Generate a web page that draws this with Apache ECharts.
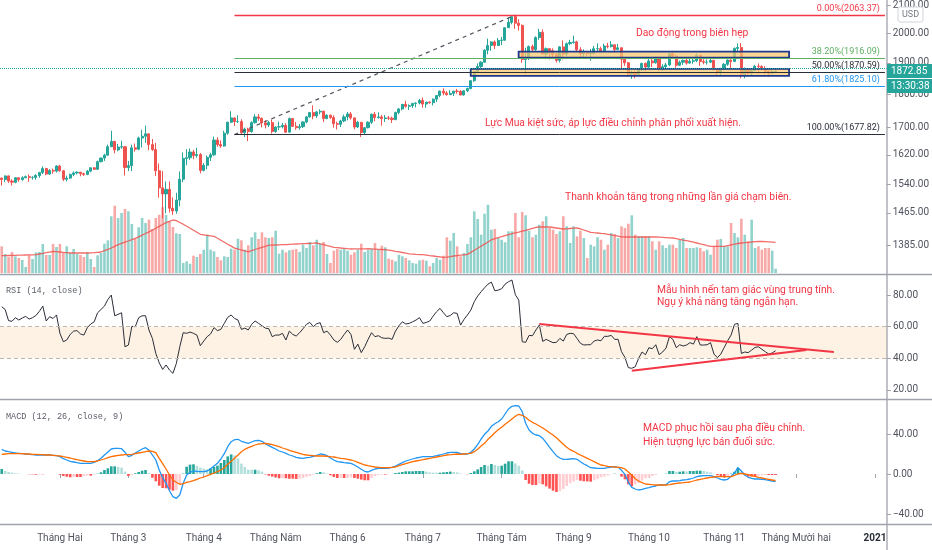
<!DOCTYPE html>
<html>
<head>
<meta charset="utf-8">
<script src="https://cdn.jsdelivr.net/npm/echarts/dist/echarts.min.js"></script>
<style>
  html, body { margin: 0; padding: 0; background: #fff; overflow: hidden; }
  #main { width: 932px; height: 550px; }
</style>
</head>
<body>
<div id="main"></div>
<script>
// XAUUSD ngày, 09/01/2020 - 23/11/2020 (giá)
var open = [
  1556,1552,1562,1548,1545,1557,1552,1557,1560,1558,1558,1563,1571,1582,1567,1577,1575,
  1589,1576,1553,1556,1566,1570,1572,1568,1566,1575,1584,1580,1601,1611,1619,1643,1658,1634,1642,1643,
  1585,1590,1640,1636,1668,1673,1680,1649,1635,1576,1530,1514,1526,1477,1470,1498,1553,1610,1612,1628,1618,1621,
  1577,1591,1613,1620,1662,1649,1645,1682,1714,1727,1716,1716,1683,1694,1687,1713,1730,1726,1712,1706,1713,
  1687,1700,1701,1705,1685,1725,1702,1698,1701,1715,1730,1743,1733,1745,1747,1725,1735,1728,1710,1708,1718,
  1730,1739,1727,1700,1714,1684,1698,1714,1738,1728,1730,1725,1727,1726,1722,1743,1754,1768,1762,1764,1771,1772,
  1780,1769,1775,1773,1784,1795,1809,1803,1798,1802,1809,1808,1797,1810,1817,1842,1871,1888,1902,1942,1958,1970,1958,
  1975,1976,2019,2038,2058,2035,2027,1911,1915,1954,1944,1985,2003,1929,1947,1940,1928,1908,1953,1929,1964,
  1968,1970,1943,1930,1933,1931,1932,1947,1947,1940,1956,1954,1960,1944,1950,1912,1900,1863,1868,1862,1881,1898,
  1886,1906,1900,1913,1878,1887,1893,1930,1922,1892,1902,1908,1899,1905,1907,1925,1904,1902,1902,1908,1878,1868,
  1879,1895,1909,1904,1948,1951,1862,1877,1866,1874,1889,1888,1880,1872,1866,1871
];
var high = [
  1557,1563,1563,1553,1558,1557,1561,1563,1566,1561,1567,1573,1588,1584,1580,1582,1591,
  1592,1577,1563,1568,1574,1575,1573,1571,1578,1585,1586,1604,1612,1623,1649,1689,1660,1651,1660,1644,
  1603,1649,1652,1672,1692,1704,1681,1665,1654,1596,1575,1547,1547,1505,1517,1574,1627,1636,1638,1634,1640,1625,
  1597,1618,1626,1672,1670,1661,1689,1716,1747,1729,1735,1723,1698,1698,1717,1738,1739,1728,1720,1718,1722,
  1702,1716,1712,1711,1728,1726,1715,1709,1717,1733,1745,1765,1748,1753,1749,1738,1737,1735,1716,1721,1737,
  1745,1745,1728,1718,1715,1700,1717,1740,1745,1744,1736,1736,1733,1731,1746,1757,1769,1779,1768,1772,1774,1785,
  1789,1775,1777,1786,1797,1811,1818,1809,1812,1810,1816,1812,1810,1820,1843,1873,1898,1905,1945,1981,1972,1975,1983,
  1987,2021,2055,2060,2063.37,2049,2031,1950,1958,1961,1989,2015,2013,1951,1948,1948,1933,1956,1975,1968,1977,
  1992,1974,1952,1945,1937,1946,1956,1965,1954,1964,1967,1973,1961,1963,1952,1917,1903,1874,1874,1883,1900,1901,
  1917,1918,1920,1921,1895,1900,1933,1934,1926,1907,1911,1913,1916,1915,1931,1926,1912,1911,1913,1910,1881,1884,
  1899,1911,1911,1951,1965,1966,1885,1881,1881,1893,1898,1892,1889,1876,1883,1875
];
var low = [
  1536,1545,1543,1536,1542,1546,1549,1556,1546,1552,1552,1557,1567,1564,1565,1568,1571,
  1573,1548,1547,1554,1561,1566,1561,1562,1564,1572,1578,1578,1599,1603,1618,1643,1624,1630,1637,1563,
  1575,1575,1629,1633,1641,1654,1633,1631,1562,1504,1451,1464,1466,1460,1463,1482,1545,1591,1606,1608,1612,1569,
  1574,1580,1603,1617,1643,1640,1643,1677,1712,1703,1712,1680,1671,1659,1683,1710,1718,1699,1696,1700,1681,
  1683,1691,1696,1683,1684,1700,1692,1692,1697,1711,1728,1723,1727,1738,1715,1723,1724,1698,1693,1700,1714,
  1720,1722,1693,1697,1671,1677,1696,1709,1717,1725,1704,1715,1721,1712,1720,1738,1750,1758,1751,1757,1759,1768,
  1758,1758,1770,1765,1775,1790,1796,1795,1798,1794,1801,1796,1795,1806,1815,1838,1867,1883,1900,1928,1940,1946,1956,
  1959,1974,2018,2031,2015,2009,1900,1863,1909,1936,1940,1977,1928,1912,1911,1916,1901,1901,1911,1923,1959,
  1964,1936,1917,1916,1922,1907,1928,1939,1937,1937,1948,1951,1933,1942,1882,1890,1855,1848,1850,1860,1873,1873,
  1881,1886,1897,1873,1873,1880,1889,1914,1884,1889,1893,1894,1897,1897,1902,1890,1895,1894,1899,1875,1860,1859,
  1876,1890,1877,1903,1934,1850,1850,1860,1861,1872,1864,1874,1862,1855,1865,1866
];
var close = [
  1552,1562,1548,1545,1557,1552,1557,1560,1558,1558,1563,1571,1582,1567,1577,1575,1589,
  1576,1553,1556,1566,1570,1572,1568,1566,1575,1584,1580,1601,1611,1619,1643,1658,1634,1642,1643,1585,
  1590,1640,1636,1668,1673,1680,1649,1635,1576,1530,1514,1526,1477,1470,1498,1553,1610,1612,1628,1618,1621,1577,
  1591,1613,1620,1662,1649,1645,1682,1714,1727,1716,1716,1683,1694,1687,1713,1730,1726,1712,1706,1713,1687,
  1700,1701,1705,1685,1725,1702,1698,1701,1715,1730,1743,1733,1745,1747,1725,1735,1728,1710,1708,1718,1730,
  1739,1727,1700,1714,1684,1698,1714,1738,1728,1730,1725,1727,1726,1722,1743,1754,1768,1762,1764,1771,1772,1780,
  1769,1775,1773,1784,1795,1809,1803,1798,1802,1809,1808,1797,1810,1817,1842,1871,1888,1902,1942,1958,1970,1958,1975,
  1976,2019,2038,2058,2035,2027,1911,1915,1954,1944,1985,2003,1929,1947,1940,1928,1908,1953,1929,1964,1968,
  1970,1943,1930,1933,1931,1932,1947,1947,1940,1956,1954,1960,1944,1950,1912,1900,1863,1868,1862,1881,1898,1886,
  1906,1900,1913,1878,1887,1893,1930,1922,1892,1902,1908,1899,1905,1907,1925,1904,1902,1902,1908,1878,1868,1879,
  1895,1909,1904,1948,1951,1862,1877,1866,1874,1889,1888,1880,1872,1866,1871,1872.85
];
// khối lượng (nghìn)
var volume = [
  26.7,19,16,21,16.7,15,13,6,17.7,14,20.7,21,29,18,18,29,26,
  29,20,26.7,20,24,19,18,16,20.7,14,6,17.7,20,29.3,32.7,56.7,67.3,55,60,64,
  61.7,49,34,45.7,55,50,53.3,44,55,58.3,65.7,58,51.7,46,39.7,39,10,11.7,9.3,17.3,16,19,
  23.3,38.3,23.3,21.7,16,12.7,16.7,16,24.3,23.3,34.3,32.7,23.3,27.7,35.7,40.7,34,40.7,35.7,35,35.7,
  42.3,19.3,23.3,20.7,22.7,23.3,24,21,28.3,25,31,27.7,33.3,29.3,31,19,10,22.3,24,23.3,24,
  22.3,18.3,20.7,23.3,29.3,21,23.3,24,30,23.3,27.3,25.7,14.3,13.3,11.7,18.3,16.7,15,12.7,10,9.3,12.7,
  13.3,12.3,6.7,10,15,13.3,17.3,35.7,32.3,40,26.7,16.7,20,29,35.7,61.7,54,38.3,59.3,68.3,43.3,44,35,
  33.3,30.7,41.7,41.7,60,35.7,61,57.7,42.3,35.7,38.3,48.3,51.7,56.7,45,43.3,39,41.7,56.7,46.7,30,
  46.7,36.7,42.3,35,15,28.3,26.7,35.7,33.3,23.3,28.3,40,39,35,46.7,45,49.3,57.7,38.3,36.7,36.7,36.7,
  36.7,31.7,23.3,31.7,27.7,25,28.3,28.3,25,33.3,35,25,25,25,25.7,25,21.7,23.3,18.3,26.7,33.3,34,
  26.7,26.7,50,40,35.7,54.3,38.3,31.7,53.3,25,26.7,23.3,25,25,22.3,4.3
];
var volumeMA = [
  17.3,17.4,17.5,17.6,17.7,17.8,17.9,18.0,18.1,18.2,18.4,19.0,19.6,20.3,20.9,21.5,21.3,
  21.0,20.6,20.3,20.0,20.0,20.0,20.0,20.0,20.0,20.2,20.4,20.7,21.0,22.3,23.6,25.0,26.7,28.4,29.6,30.8,
  32.0,33.3,34.6,36.2,37.9,39.5,41.1,42.8,44.7,46.6,48.5,50.4,51.7,53.0,52.3,50.5,48.8,46.8,44.8,42.8,40.7,38.7,
  38.2,37.7,37.2,36.7,34.7,32.8,30.8,28.8,26.9,24.9,24.0,23.0,22.1,21.2,22.3,23.5,24.6,25.7,26.7,27.8,27.9,
  28.0,28.1,28.3,28.4,28.6,28.8,29.0,29.2,29.4,29.5,29.7,29.8,30.0,29.1,28.3,27.4,26.6,25.7,25.4,25.0,24.7,
  24.3,24.0,24.1,24.1,24.2,24.2,24.3,24.1,23.9,23.7,23.5,23.3,22.8,22.3,21.7,21.2,20.5,19.8,19.2,18.9,18.6,18.4,
  18.3,17.9,17.4,17.0,16.5,16.1,15.7,15.9,16.4,17.0,17.4,17.8,18.2,18.6,20.6,22.7,24.7,26.8,28.9,31.0,33.2,34.3,35.3,
  36.3,37.4,38.4,39.3,40.1,40.9,41.8,42.7,43.6,44.6,45.6,46.0,46.0,46.0,46.0,45.5,45.0,44.5,44.0,44.2,44.5,
  44.8,45.0,44.1,43.0,41.8,40.7,40.3,40.0,39.6,39.3,38.7,38.1,37.4,36.8,36.2,36.0,36.0,36.0,36.0,36.0,36.0,36.0,
  36.0,36.0,36.0,35.8,35.6,35.4,35.2,35.0,34.3,33.6,32.9,32.3,31.7,30.9,30.0,29.1,28.3,27.4,26.7,26.7,26.7,26.7,
  26.7,27.4,28.1,28.8,29.5,30.0,30.4,30.7,31.0,31.4,31.6,31.5,31.3,31.1,30.9,30.7
];
// RSI (14, close)
var rsi = [
  72.6,70.9,63.8,63.4,65.7,64.2,65.5,66.5,64.8,65.7,67.1,69.7,73.0,63.6,66.3,65.2,67.4,
  55.8,50.5,51.6,55.1,57.2,57.5,55.4,54.7,59.4,61.7,63.1,68.8,70.9,73.0,77.2,80.0,66.9,67.8,68.8,47.3,
  48.4,60.2,60.0,65.7,66.9,66.9,57.9,52.6,43.1,37.2,33.0,35.8,32.6,30.5,36.8,47.3,56.2,55.8,56.6,55.8,54.7,48.0,
  50.9,53.7,55.4,59.4,57.5,58.3,62.1,65.9,67.4,65.2,64.2,58.3,59.1,57.9,61.5,63.6,62.1,60.6,59.1,58.7,53.7,
  54.7,54.7,55.8,51.6,57.2,55.1,54.1,56.2,58.7,61.5,62.7,60.0,61.9,62.5,56.2,57.2,54.7,51.6,50.1,52.0,55.1,
  57.9,55.1,45.7,49.0,43.6,47.3,52.0,56.2,53.7,54.3,53.0,52.6,52.8,52.0,57.2,60.6,63.1,61.7,62.1,63.1,64.2,65.7,
  62.1,62.7,63.6,66.7,69.5,71.6,68.8,66.3,67.1,68.8,68.4,61.0,64.6,67.4,70.5,75.8,79.4,82.1,84.6,86.9,88.2,82.7,83.1,
  84.0,86.9,88.4,89.5,80.2,76.8,50.5,50.1,54.5,54.3,57.9,61.0,50.7,52.0,50.9,49.9,50.1,52.6,50.9,55.1,55.8,
  55.6,52.6,49.5,48.4,48.6,48.6,50.9,51.6,51.1,53.9,53.9,54.5,52.0,52.0,44.2,40.6,34.1,33.7,34.7,40.0,44.0,42.3,
  46.7,46.1,48.6,42.3,44.0,46.5,53.7,52.0,46.7,48.6,47.8,48.4,49.9,49.0,53.7,48.4,48.4,48.6,49.9,42.7,40.4,42.7,
  46.9,51.1,54.7,61.5,62.1,43.1,44.0,43.6,45.2,46.9,47.3,45.7,44.2,42.7,43.4,44.8
];
// MACD (12, 26, close, 9)
var macd = [
  24.7,23.0,22.3,21.7,21.0,20.7,20.3,20.0,19.7,19.3,19.0,19.0,19.0,19.0,19.0,18.7,18.3,
  17.3,15.3,14.0,12.7,12.0,11.3,10.7,10.7,10.7,10.7,11.7,13.3,15.7,19.0,22.0,25.0,25.7,25.7,25.3,21.7,
  17.3,18.7,21.0,23.0,25.0,26.3,24.0,19.0,14.0,4.0,-3.7,-9.3,-16.7,-22.7,-24.3,-21.0,-9.3,-1.0,1.7,3.0,2.7,2.3,
  2.3,3.0,5.3,8.0,10.7,15.0,20.3,27.3,32.3,34.3,34.7,32.7,31.7,30.7,32.0,33.3,33.7,32.7,30.3,28.3,26.7,
  25.0,23.0,22.0,20.7,19.0,18.0,16.7,16.0,15.7,16.3,16.7,17.7,18.7,20.0,19.7,18.3,16.0,14.0,12.3,12.0,11.3,
  11.0,10.7,9.0,7.0,4.7,2.7,2.0,3.7,5.0,5.7,5.7,5.7,6.0,6.7,8.0,9.7,11.3,13.0,14.0,15.0,16.0,16.7,
  17.3,17.3,17.3,17.7,18.3,19.0,20.0,21.0,21.7,21.7,21.7,20.3,20.0,20.0,21.7,25.0,29.3,35.0,39.7,43.0,47.7,50.3,52.3,
  55.0,60.0,65.0,67.7,68.3,68.0,62.3,50.7,44.0,40.7,39.0,38.3,35.7,31.3,26.7,22.3,18.3,16.0,14.7,14.7,15.0,
  15.3,14.7,12.3,10.0,8.3,6.3,6.0,5.7,5.7,5.7,6.3,7.0,7.3,6.7,3.7,-0.3,-8.3,-13.3,-15.0,-16.0,-15.3,-14.3,
  -13.7,-12.7,-12.0,-11.0,-11.0,-10.7,-7.7,-7.0,-7.0,-6.7,-6.0,-5.7,-5.0,-4.0,-2.7,-2.0,-1.7,-1.7,-1.7,-2.7,-4.0,-5.3,
  -6.0,-5.3,-2.3,1.0,6.3,3.0,-1.0,-3.3,-4.3,-5.0,-5.0,-5.3,-5.7,-6.3,-7.0,-7.7
];
var signal = [
  19.7,20.0,20.3,20.3,20.3,20.3,20.3,20.0,20.0,19.7,19.7,19.3,19.3,19.0,19.0,18.7,18.3,
  18.0,17.3,16.7,16.0,15.0,14.3,13.7,13.0,12.3,12.3,12.3,13.0,14.0,15.0,16.3,17.3,18.0,18.7,19.0,19.3,
  19.3,19.7,20.3,21.0,21.7,22.3,23.0,22.7,21.3,15.7,10.3,5.0,-1.0,-6.0,-8.3,-10.3,-9.7,-8.3,-7.7,-6.7,-5.3,-4.0,
  -3.0,-1.7,-0.3,1.0,2.3,4.0,6.3,9.7,12.7,15.7,19.0,22.3,24.7,26.3,27.7,29.0,30.0,30.3,30.7,30.0,29.3,
  28.3,27.3,26.0,25.0,23.7,22.7,21.7,20.7,19.7,19.0,18.7,18.3,18.0,18.0,18.0,17.7,17.3,17.0,16.3,15.7,15.3,
  14.7,14.0,13.0,11.7,10.3,9.0,8.3,7.7,7.0,6.7,6.3,6.3,6.3,6.7,7.0,8.3,9.3,10.3,11.3,12.3,13.0,13.7,
  14.3,15.0,15.7,16.3,17.0,17.7,18.3,19.0,19.3,19.7,20.0,19.7,20.0,20.3,20.7,22.3,24.7,28.0,30.7,34.7,37.7,41.3,44.3,
  46.7,49.7,52.3,55.0,57.7,59.7,58.7,56.7,53.7,51.7,50.0,48.0,46.0,43.7,41.3,39.0,36.3,33.0,29.7,26.7,24.3,
  22.7,20.7,19.0,17.3,15.7,14.0,12.3,10.7,9.0,8.3,7.7,7.3,7.0,6.7,6.3,5.0,2.0,-1.0,-4.7,-7.0,-8.7,-10.0,
  -10.3,-10.7,-11.0,-11.0,-11.0,-11.0,-10.7,-10.0,-9.3,-9.0,-8.7,-8.3,-8.0,-7.0,-6.0,-5.3,-4.7,-4.0,-3.3,-3.0,-2.7,-2.7,
  -2.7,-2.7,-2.7,-1.3,0.0,0.7,0.0,-0.7,-1.7,-2.3,-3.3,-4.0,-4.7,-5.3,-6.0,-6.7
];
var monthNames = ['Tháng Một','Tháng Hai','Tháng 3','Tháng 4','Tháng Năm','Tháng 6','Tháng 7','Tháng Tám','Tháng 9','Tháng 10','Tháng 11','Tháng Mười hai'];
var priceTicks = [2100, 2000, 1900, 1800, 1700, 1620, 1540, 1465, 1385];
var rsiTicks = [20, 40, 60, 80];
var macdTicks = [40, 0, -40];
var fibPct = ['0.00%', '38.20%', '50.00%', '61.80%', '100.00%'];
var fibPrice = [2063.37, 1916.09, 1870.59, 1825.10, 1677.82];
var lastPrice = 1872.85;
var rangeUpper = [1916.6, 1937];   // biên trên
var rangeLower = [1857.5, 1880];   // biên dưới

// ngày giao dịch (bỏ T7, CN và Thứ Sáu Tuần Thánh), kéo dài sang vùng trống bên phải
function buildDays(startIso, count, skip) {
  var out = [], d = new Date(startIso + 'T00:00:00Z');
  while (out.length < count) {
    var wd = d.getUTCDay(), iso = d.toISOString().slice(0, 10);
    if (wd !== 0 && wd !== 6 && skip.indexOf(iso) < 0) out.push(iso);
    d.setUTCDate(d.getUTCDate() + 1);
  }
  return out;
}
var days = buildDays('2020-01-09', 259, ['2020-04-10']);
var monthStart = days.map(function (d, i) { return i > 0 && d.slice(0, 7) !== days[i - 1].slice(0, 7); });

var L = Math.log;
var PX = 580;                              // px per ln unit on the price pane
var yMax = L(2063.37) + 14 / PX, yMin = L(2063.37) - 260 / PX;

var candles = open.map(function (o, i) { return [L(o), L(close[i]), L(low[i]), L(high[i])]; });
var volBars = volume.map(function (v, i) {
  return { value: v, itemStyle: { color: close[i] >= open[i] ? '#92d2cc' : '#f7a9a7' } };
});
var hist = macd.map(function (v, i) { return +(v - signal[i]).toFixed(2); });
var histBars = hist.map(function (h, i) {
  var p = i ? hist[i - 1] : h, c;
  if (h >= 0) c = h >= p ? '#26a69a' : '#b2dfdb';
  else c = h > p ? '#ffcdd2' : '#ff5252';
  return { value: h, itemStyle: { color: c } };
});

var FONT = 'Roboto, sans-serif';
var axisGray = '#9fa2aa', labelGray = '#50535e';
var gridL = -1.31, gridW = 888.2;

var fibColors = ['#f23645', '#5fae63', '#2a2e39', '#2196f3', '#2a2e39'];
var fibWidth = [1.3, 1, 1, 1, 1];
// one series per level so each line keeps its own colour
var fibSeries = fibPrice.map(function (p, k) {
  return {
    name: 'Fib ' + fibPct[k], type: 'line', xAxisIndex: 0, yAxisIndex: 0, data: [], z: 3, silent: true,
    color: fibColors[k],
    markLine: {
      silent: true, symbol: ['none', 'none'],
      lineStyle: { color: fibColors[k], opacity: 1, width: fibWidth[k], type: 'solid' },
      label: { show: true, position: 'insideEndTop', distance: [5, 2], color: fibColors[k],
               fontSize: 9, fontFamily: FONT, formatter: fibPct[k] + '(' + p.toFixed(2) + ')' },
      data: [[{ coord: [days[68], L(p)] }, { coord: [days[258], L(p)] }]]
    }
  };
});

function yAx(grid, min, max, ticks, fmt) {
  return {
    type: 'value', gridIndex: grid, position: 'right', min: min, max: max,
    splitLine: { show: false }, axisLine: { show: false },
    axisTick: { show: true, customValues: ticks, length: 4, lineStyle: { color: axisGray } },
    axisLabel: { customValues: ticks, formatter: fmt, color: labelGray, fontSize: 10, fontFamily: FONT, margin: 6 }
  };
}
function xAx(grid, visible) {
  return {
    type: 'category', gridIndex: grid, data: days, boundaryGap: true,
    axisLine: { show: false },
    axisTick: { show: visible, alignWithLabel: true, length: 4, lineStyle: { color: axisGray },
                interval: function (i) { return monthStart[i]; } },
    axisLabel: {
      show: visible, color: labelGray, fontSize: 10, fontFamily: FONT, margin: 9, hideOverlap: false,
      interval: function (i) { return monthStart[i]; },
      formatter: function (v) {
        var m = +v.slice(5, 7);
        return m === 1 ? '{y|' + v.slice(0, 4) + '}' : monthNames[m - 1];
      },
      rich: { y: { fontWeight: 'bold', fontSize: 10, color: '#2a2e39', fontFamily: FONT } }
    }
  };
}
function txt(x, y, s, color, size, family) {
  return { type: 'text', x: x, y: y, z: 70,
           style: { text: s, fill: color, fontSize: size || 10.3, fontFamily: family || FONT, verticalAlign: 'middle' } };
}
function hline(y, x2) {
  return { type: 'line', z: 40, shape: { x1: 0, y1: y, x2: x2, y2: y }, style: { stroke: axisGray, lineWidth: 1.3 } };
}

var series = [
  { name: 'Khối lượng', type: 'bar', xAxisIndex: 1, yAxisIndex: 1, data: volBars, barWidth: 2.6, z: 1, silent: true },
  { name: 'MA khối lượng', type: 'line', xAxisIndex: 1, yAxisIndex: 1, data: volumeMA, showSymbol: false,
    lineStyle: { color: 'rgba(239,83,80,0.85)', width: 1.3 }, z: 1, silent: true },
  { name: 'XAUUSD', type: 'candlestick', xAxisIndex: 0, yAxisIndex: 0, data: candles, barWidth: 2.6, z: 2,
    itemStyle: { color: '#26a69a', color0: '#ef5350', borderColor: '#26a69a', borderColor0: '#ef5350', borderWidth: 1 },
    silent: true },
  { name: 'Xu hướng', type: 'line', xAxisIndex: 0, yAxisIndex: 0, data: [], z: 3, silent: true,
    markLine: { silent: true, symbol: ['none', 'none'], label: { show: false },
      lineStyle: { color: '#50535e', type: [4, 4], width: 1.2 },
      data: [[{ coord: [days[68], L(fibPrice[4])] }, { coord: [days[150], L(fibPrice[0])] }]] } },
  { name: 'Giá hiện tại', type: 'line', xAxisIndex: 0, yAxisIndex: 0, data: [], z: 3, silent: true,
    markLine: { silent: true, symbol: ['none', 'none'], label: { show: false },
      lineStyle: { color: '#26a69a', type: 'dotted', width: 1 },
      data: [{ yAxis: L(lastPrice) }] } },
  { name: 'Biên', type: 'line', xAxisIndex: 0, yAxisIndex: 0, data: [], z: 3, silent: true,
    markArea: {
      silent: true, z: 3,
      itemStyle: { color: 'rgba(250, 200, 110, 0.72)', borderColor: '#1d3a8c', borderWidth: 1.8 },
      data: [
        [{ coord: [days[151], L(rangeUpper[1])] }, { coord: [days[230], L(rangeUpper[0])] }],
        [{ coord: [days[137], L(rangeLower[1])] }, { coord: [days[230], L(rangeLower[0])] }]
      ]
    } },
  { name: 'RSI', type: 'line', xAxisIndex: 2, yAxisIndex: 2, data: rsi, showSymbol: false, z: 2, silent: true,
    lineStyle: { color: '#2a2e39', width: 1 },
    markArea: { silent: true, itemStyle: { color: '#fdf2e4' }, data: [[{ yAxis: 40 }, { yAxis: 60 }]] },
    markLine: { silent: true, symbol: ['none', 'none'], label: { show: false },
      lineStyle: { color: '#bdb8b0', type: [4, 3], width: 1 }, data: [{ yAxis: 60 }, { yAxis: 40 }] } },
  { name: 'Tam giác', type: 'line', xAxisIndex: 2, yAxisIndex: 2, data: [], z: 4, silent: true,
    markLine: { silent: true, symbol: ['none', 'none'], label: { show: false },
      lineStyle: { color: '#f23645', type: 'solid', width: 2 },
      data: [
        [{ coord: [days[157], 61.7] }, { coord: [days[243], 44.0] }],
        [{ coord: [days[184], 32.2] }, { coord: [days[235], 45.2] }]
      ] } },
  { name: 'Histogram', type: 'bar', xAxisIndex: 3, yAxisIndex: 3, data: histBars, barWidth: 2.6, z: 1, silent: true },
  { name: 'MACD', type: 'line', xAxisIndex: 3, yAxisIndex: 3, data: macd, showSymbol: false, z: 2, silent: true,
    lineStyle: { color: '#2196f3', width: 1.3 } },
  { name: 'Signal', type: 'line', xAxisIndex: 3, yAxisIndex: 3, data: signal, showSymbol: false, z: 2, silent: true,
    lineStyle: { color: '#ff6d00', width: 1.3 } }
].concat(fibSeries);

var chart = echarts.init(document.getElementById('main'));
chart.setOption({
  animation: false,
  backgroundColor: '#ffffff',
  grid: [
    { left: gridL, width: gridW, top: 0, height: 274 },
    { left: gridL, width: gridW, top: 173, height: 100 },
    { left: gridL, width: gridW, top: 274, height: 125 },
    { left: gridL, width: gridW, top: 399, height: 125 }
  ],
  xAxis: [xAx(0, false), xAx(1, false), xAx(2, false), xAx(3, true)],
  yAxis: [
    yAx(0, yMin, yMax, priceTicks.map(L), function (v) { return Math.exp(v).toFixed(2); }),
    { type: 'value', gridIndex: 1, min: 0, max: 100, show: false },
    yAx(2, 14.3, 93.3, rsiTicks, function (v) { return v.toFixed(2); }),
    yAx(3, -50, 75, macdTicks, function (v) { return (v < 0 ? '\u2212' : '') + Math.abs(v).toFixed(2); })
  ],
  series: series,
  graphic: [
    hline(274.5, 932), hline(399.5, 932), hline(524.5, 932),
    { type: 'line', z: 40, shape: { x1: 887, y1: 0, x2: 887, y2: 550 }, style: { stroke: axisGray, lineWidth: 1.3 } },
    txt(6, 291, 'RSI (14, close)', '#5d606b', 8.5, "'Liberation Mono', 'DejaVu Sans Mono', monospace"),
    txt(6, 417, 'MACD (12, 26, close, 9)', '#5d606b', 8.5, "'Liberation Mono', 'DejaVu Sans Mono', monospace"),
    txt(636, 33, 'Dao động trong biên hẹp', '#f23645'),
    txt(485, 123, 'Lực Mua kiệt sức, áp lực điều chỉnh phân phối xuất hiện.', '#f23645'),
    txt(565, 197, 'Thanh khoản tăng trong những lần giá chạm biên.', '#f23645'),
    txt(657, 290, 'Mẫu hình nến tam giác vùng trung tính.', '#f23645'),
    txt(657, 302, 'Ngụ ý khả năng tăng ngắn hạn.', '#f23645'),
    txt(643, 428, 'MACD phục hồi sau pha điều chỉnh.', '#f23645'),
    txt(643, 442, 'Hiện tượng lực bán đuối sức.', '#f23645'),
    { type: 'rect', z: 60, shape: { x: 887, y: 64, width: 45, height: 14 }, style: { fill: '#26a69a' } },
    { type: 'rect', z: 60, shape: { x: 887, y: 79, width: 45, height: 14 }, style: { fill: '#26a69a' } },
    txt(891, 71, lastPrice.toFixed(2), '#ffffff', 10),
    txt(891, 86, '13:30:38', '#ffffff', 10),
    { type: 'rect', z: 60, shape: { x: 898, y: 7, width: 25, height: 15, r: 2 }, style: { fill: '#ffffff', stroke: '#d1d4dc', lineWidth: 1 } },
    { type: 'text', z: 71, x: 910.5, y: 14.5, style: { text: 'USD', fill: '#787b86', fontSize: 9, fontFamily: FONT, align: 'center', verticalAlign: 'middle' } }
  ]
});
</script>
</body>
</html>
